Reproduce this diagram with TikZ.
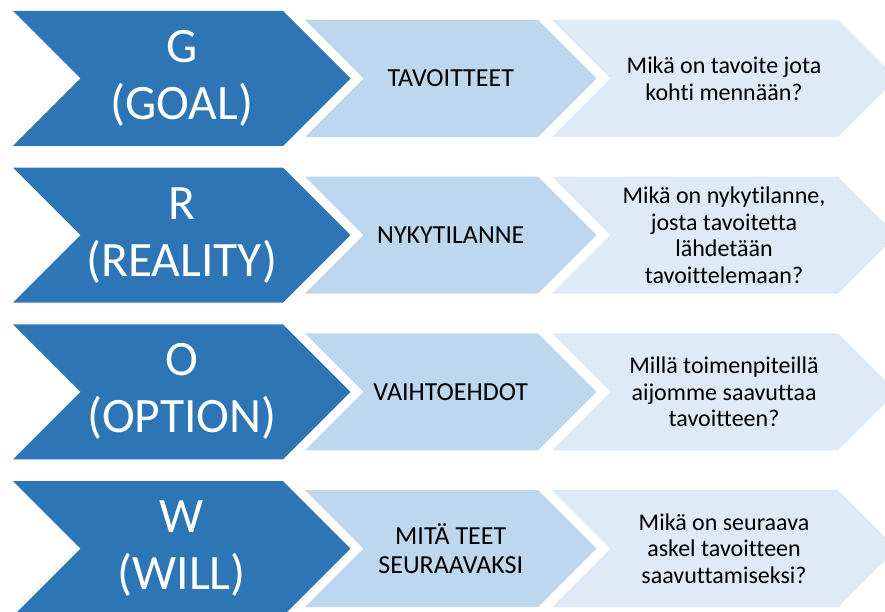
\documentclass[tikz,border=0pt]{standalone}
\usepackage{fontspec}
\setmainfont{Carlito}[RawFeature={-liga}]
\definecolor{stepdark}{HTML}{2E75B6}
\definecolor{stepmid}{HTML}{BDD7EE}
\definecolor{steplight}{HTML}{DEEBF7}
\tikzset{
  bigtext/.style={text=white, align=center, font=\fontsize{49.5}{57}\selectfont, inner sep=0pt},
  midtext/.style={text=black, align=center, font=\fontsize{26}{28.5}\selectfont, inner sep=0pt},
  asktext/.style={text=black, align=center, font=\fontsize{24}{26.7}\selectfont, inner sep=0pt},
}
% chevron: #1 left x, #2 shoulder x, #3 top y, #4 height, #5 colour
\newcommand{\chevron}[5]{%
  \fill[#5] (#1,#3) -- (#2,#3) -- ({#2+#4/2},{#3+#4/2}) -- (#2,{#3+#4})
    -- (#1,{#3+#4}) -- ({#1+#4/2},{#3+#4/2}) -- cycle;}
\begin{document}
\begin{tikzpicture}[x=1pt,y=-1pt]
\useasboundingbox (0,0) rectangle (885,612);
\clip (0,0) rectangle (885,612);
\foreach \k/\big/\mid/\ask in {%
  0/{G\\(GOAL)}/{TAVOITTEET}/{Mikä on tavoite jota\\kohti mennään?},
  1/{R\\(REALITY)}/{NYKYTILANNE}/{Mikä on nykytilanne,\\josta tavoitetta\\lähdetään\\tavoittelemaan?},
  2/{O\\(OPTION)}/{VAIHTOEHDOT}/{Millä toimenpiteillä\\aijomme saavuttaa\\tavoitteen?},
  3/{W\\(WILL)}/{MITÄ TEET\\SEURAAVAKSI}/{Mikä on seuraava\\askel tavoitteen\\saavuttamiseksi?}}{
  \pgfmathsetmacro{\T}{11+156.67*\k}
  \pgfmathsetmacro{\S}{\T+9}
  \pgfmathsetmacro{\M}{\T+67.5}
  \chevron{13}{283}{\T}{135}{stepdark}
  \chevron{305}{538}{\S}{117}{stepmid}
  \chevron{552}{838}{\S}{117}{steplight}
  \node[bigtext] (letter\k) at (181.75,\M) {\big};
  \node[midtext] (phase\k) at (450.75,\M) {\mid};
  \node[asktext] (ask\k) at (724,\M) {\ask};
}
\end{tikzpicture}
\end{document}
